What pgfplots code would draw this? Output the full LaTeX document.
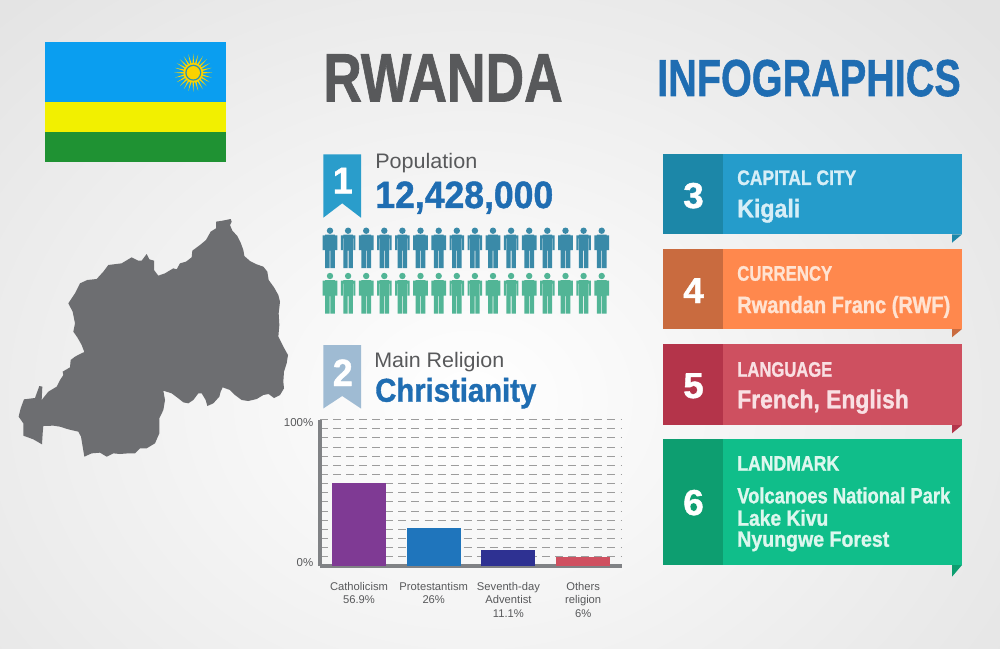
\documentclass[border=0pt]{standalone}
\usepackage{pgfplots}
\pgfplotsset{compat=1.18}
\usepackage{graphicx}
\usepackage{fontspec}
\setmainfont[BoldFeatures={FakeBold=1.2}]{Liberation Sans}
\newlength\px \setlength\px{0.75pt}
\definecolor{grayT}{HTML}{58595B}
\definecolor{blueT}{HTML}{1F6DB2}
\definecolor{mapC}{HTML}{6D6E71}
\definecolor{axC}{HTML}{808285}
\definecolor{gridC}{HTML}{9C9C9C}
\definecolor{fBlue}{HTML}{0A9EF0}
\definecolor{fYel}{HTML}{F2F000}
\definecolor{fGrn}{HTML}{1F9233}
\definecolor{sunY}{HTML}{FAD201}
\definecolor{sunB}{HTML}{2E93B0}
\definecolor{badgeA}{HTML}{2A9DCB}
\definecolor{badgeB}{HTML}{9FBBD3}
\definecolor{persA}{HTML}{3A8AA8}
\definecolor{persB}{HTML}{52B596}
\definecolor{rAm}{HTML}{259CCB}\definecolor{rAd}{HTML}{1C87A8}
\definecolor{rBm}{HTML}{FF884D}\definecolor{rBd}{HTML}{C96B3F}
\definecolor{rCm}{HTML}{CE5060}\definecolor{rCd}{HTML}{B4344A}
\definecolor{rDm}{HTML}{10BE8A}\definecolor{rDd}{HTML}{0D9E70}
\definecolor{lA}{HTML}{D6EEF7}\definecolor{lB}{HTML}{FFE3D2}
\definecolor{lC}{HTML}{F9E0E3}\definecolor{lD}{HTML}{DDF7EE}
\definecolor{barA}{HTML}{7F3A94}\definecolor{barB}{HTML}{1F75BC}
\definecolor{barC}{HTML}{2E3192}\definecolor{barD}{HTML}{CF5060}

\newcommand\pr[4]{\pgfpathrectanglecorners{\pgfpoint{#1*0.75pt}{-#2*0.75pt}}{\pgfpoint{#3*0.75pt}{-#4*0.75pt}}}
\pgfdeclareplotmark{person}{%
  \pgfpathcircle{\pgfpointorigin}{2.4pt}%
  \pr{-7.3}{4.6}{7.3}{7.6}\pr{-7.3}{5}{-5.2}{19.5}\pr{5.2}{5}{7.3}{19.5}%
  \pr{-4.8}{4}{4.8}{20}\pr{-4.8}{19}{-0.4}{37.5}\pr{0.4}{19}{4.8}{37.5}%
  \pgfusepathqfill}
\pgfdeclareplotmark{rwsun}{%
  \pgfsetfillcolor{sunY}%
  \foreach \a in {0,15,...,345}{%
    \pgfpathmoveto{\pgfpointpolar{\a-6.5}{6pt}}%
    \pgfpathlineto{\pgfpointpolar{\a}{14.3pt}}%
    \pgfpathlineto{\pgfpointpolar{\a+6.5}{6pt}}%
    \pgfpathclose\pgfusepathqfill}%
  \pgfpathcircle{\pgfpointorigin}{7.4pt}\pgfusepathqfill
  \pgfsetfillcolor{sunB}\pgfpathcircle{\pgfpointorigin}{6pt}\pgfusepathqfill
  \pgfsetfillcolor{sunY}\pgfpathcircle{\pgfpointorigin}{5pt}\pgfusepathqfill}

\newcommand\poly[2]{\addplot[fill=#1,draw=none,forget plot] coordinates {#2} --cycle;}
\newcommand\rect[5]{\poly{#5}{(#1,#2) (#3,#2) (#3,#4) (#1,#4)}}
% ribbon: top, bottom, fold bottom, main, dark
\newcommand\ribbon[5]{%
  \rect{663}{#1}{722.5}{#2}{#5}%
  \rect{722.5}{#1}{962}{#2}{#4}%
  \poly{#5}{(952,#2) (962,#2) (952,#3)}}
% text: x, baseline y, width, size (all px), colour, series, text
\newcommand\txt[7]{\node[anchor=base west,inner sep=0pt,text=#5] at (#1,#2)
  {\pgfmathsetmacro\fs{#4*0.75}\resizebox{#3\px}{\height}{\fontsize{\fs}{\fs}\selectfont#6#7}};}

\begin{document}
\begin{tikzpicture}[x=0.75pt,y=-0.75pt]
\path[use as bounding box] (0,0) rectangle (1000,649);
\begin{scope}
\clip (0,0) rectangle (1000,649);
\fill[black!11] (0,0) rectangle (1000,649);
\shade[inner color=white,outer color=black!11] (470,400) ellipse (700 and 560);
\end{scope}

% decoration: flag, badges, ribbons, people
\begin{axis}[at={(0pt,0pt)},anchor=north west,scale only axis,width=1000\px,height=649\px,
  xmin=0,xmax=1000,ymin=0,ymax=649,y dir=reverse,hide axis,clip=false]
\rect{45}{42.3}{225.7}{102.3}{fBlue}
\rect{45}{102.3}{225.7}{132.4}{fYel}
\rect{45}{132.4}{225.7}{162.3}{fGrn}
\addplot[only marks,mark=rwsun,forget plot] coordinates {(193.3,72.7)};
\poly{badgeA}{(323.3,154.3) (361,154.3) (361,217.7) (342.2,203.3) (323.3,217.7)}
\poly{badgeB}{(323.3,345) (361,345) (361,408.5) (342.2,396) (323.3,408.5)}
\ribbon{154}{234.3}{242.7}{rAm}{rAd}
\ribbon{249}{329}{337.3}{rBm}{rBd}
\ribbon{344.3}{425}{433.3}{rCm}{rCd}
\ribbon{439.3}{565}{576.7}{rDm}{rDd}
\addplot[only marks,mark=person,color=persA,forget plot] coordinates {
 (330,230.7) (348.1,230.7) (366.2,230.7) (384.3,230.7) (402.4,230.7) (420.5,230.7) (438.7,230.7) (456.8,230.7)
 (474.9,230.7) (493,230.7) (511.1,230.7) (529.2,230.7) (547.3,230.7) (565.5,230.7) (583.6,230.7) (601.7,230.7)};
\addplot[only marks,mark=person,color=persB,forget plot] coordinates {
 (330,276) (348.1,276) (366.2,276) (384.3,276) (402.4,276) (420.5,276) (438.7,276) (456.8,276)
 (474.9,276) (493,276) (511.1,276) (529.2,276) (547.3,276) (565.5,276) (583.6,276) (601.7,276)};
\end{axis}

% map of Rwanda (traced outline)
\begin{axis}[at={(0pt,-150pt)},anchor=north west,scale only axis,width=300\px,height=270\px,
  xmin=0,xmax=900,ymin=0,ymax=810,y dir=reverse,hide axis,clip=false]
\addplot[fill=mapC,draw=none] coordinates {
(648,65)(668,62)(692,57)(695,65)(690,75)(697,92)(712,108)(722,128)(730,150)(733,168)(750,183)(770,193)(790,200)(802,215)(806,240)(822,262)(835,285)(840,305)(836,340)(838,375)(835,410)(850,440)(864,465)(860,490)(852,515)(850,545)(852,565)(840,585)(822,594)(806,582)(790,585)(770,597)(745,603)(725,600)(705,585)(690,570)(668,562)(662,575)(658,590)(640,610)(622,618)(617,600)(605,580)(595,580)(580,600)(565,610)(550,607)(535,595)(515,580)(490,572)(495,600)(490,630)(478,655)(478,700)(465,730)(440,745)(420,745)(405,760)(385,760)(360,762)(340,760)(320,770)(300,758)(275,760)(253,770)(248,740)(243,710)(235,695)(205,688)(180,680)(160,677)(130,678)(128,700)(126,733)(100,718)(70,707)(70,670)(56,650)(62,625)(72,598)(105,594)(118,558)(127,560)(125,600)(145,575)(170,560)(180,540)(190,525)(188,515)(210,502)(212,480)(225,470)(240,462)(253,456)(245,435)(232,412)(220,395)(225,370)(218,335)(205,310)(225,280)(240,250)(262,240)(290,237)(310,215)(325,195)(365,190)(395,172)(415,182)(425,182)(440,162)(448,178)(462,182)(462,210)(475,227)(495,220)(520,205)(530,208)(540,190)(558,185)(575,172)(577,152)(600,135)(618,120)(632,95)(648,85)
} --cycle;
\end{axis}

% bar chart
\begin{axis}[at={(240pt,-424.5pt)},anchor=south west,scale only axis,width=302\px,height=146.4\px,
  xmin=-0.522,xmax=3.52,ymin=0,ymax=100,
  axis lines=left,
  x axis line style={-,line width=3.2\px,color=axC},
  y axis line style={-,line width=3.2\px,color=axC},
  ybar,bar shift=0pt,bar width=54\px,
  xtick={0,1,2,3},
  xticklabels={{Catholicism\\56.9\%},{Protestantism\\26\%},{Seventh-day\\Adventist\\11.1\%},{Others\\religion\\6\%}},
  xticklabel style={align=center,anchor=north,yshift=-8.7pt,text=grayT,font=\fontsize{8.4}{10}\selectfont},
  ytick={0,100},
  yticklabels={\raisebox{0\px}[0pt][0pt]{0\%},\raisebox{-6.5\px}[0pt][0pt]{100\%}},
  yticklabel style={text=grayT,font=\fontsize{8.6}{10}\selectfont,xshift=-1.5pt},
  minor ytick={6.25,12.5,18.75,25,31.25,37.5,43.75,50,56.25,62.5,68.75,75,81.25,87.5,93.75},
  ymajorgrids,yminorgrids,
  major tick length=0pt,minor tick length=0pt,
  grid style={line width=0.75pt,color=gridC,dash pattern=on 6pt off 3.8pt},
  minor grid style={line width=0.75pt,color=gridC,dash pattern=on 6pt off 3.8pt},
  clip=false]
\addplot[fill=barA,draw=none] coordinates {(0,56.9)};
\addplot[fill=barB,draw=none] coordinates {(1,26)};
\addplot[fill=barC,draw=none] coordinates {(2,11.1)};
\addplot[fill=barD,draw=none] coordinates {(3,6)};
\end{axis}

% texts
\txt{323}{101.5}{239.5}{68.5}{grayT}{\bfseries}{RWANDA}
\txt{657}{96}{303.5}{52}{blueT}{\bfseries}{INFOGRAPHICS}
\txt{375}{168.3}{102}{21}{grayT}{}{Population}
\txt{375}{208}{178}{38}{blueT}{\bfseries}{12,428,000}
\txt{374}{367.3}{130}{21}{grayT}{}{Main Religion}
\txt{375}{401.7}{161}{33}{blueT}{\bfseries}{Christianity}
\txt{332.5}{193.3}{20}{37}{white}{\bfseries}{1}
\txt{332.5}{386}{20}{38}{white}{\bfseries}{2}
\txt{683}{208}{20.5}{36}{white}{\bfseries}{3}
\txt{683}{303}{20.5}{36}{white}{\bfseries}{4}
\txt{683}{398}{20.5}{36}{white}{\bfseries}{5}
\txt{683}{515}{20.5}{36}{white}{\bfseries}{6}
\txt{737}{185}{119}{21}{lA}{\bfseries}{CAPITAL CITY}
\txt{737}{217.3}{63}{25.5}{lA}{\bfseries}{Kigali}
\txt{737}{280.7}{95}{21}{lB}{\bfseries}{CURRENCY}
\txt{737}{313}{213}{23.5}{lB}{\bfseries}{Rwandan Franc (RWF)}
\txt{737}{376.7}{95}{21}{lC}{\bfseries}{LANGUAGE}
\txt{737}{408.3}{171.5}{26}{lC}{\bfseries}{French, English}
\txt{737}{470.7}{102}{21}{lD}{\bfseries}{LANDMARK}
\txt{737}{503.3}{213}{22}{lD}{\bfseries}{Volcanoes National Park}
\txt{737}{525.7}{91}{22}{lD}{\bfseries}{Lake Kivu}
\txt{737}{546.7}{152}{22}{lD}{\bfseries}{Nyungwe Forest}
\end{tikzpicture}
\end{document}
